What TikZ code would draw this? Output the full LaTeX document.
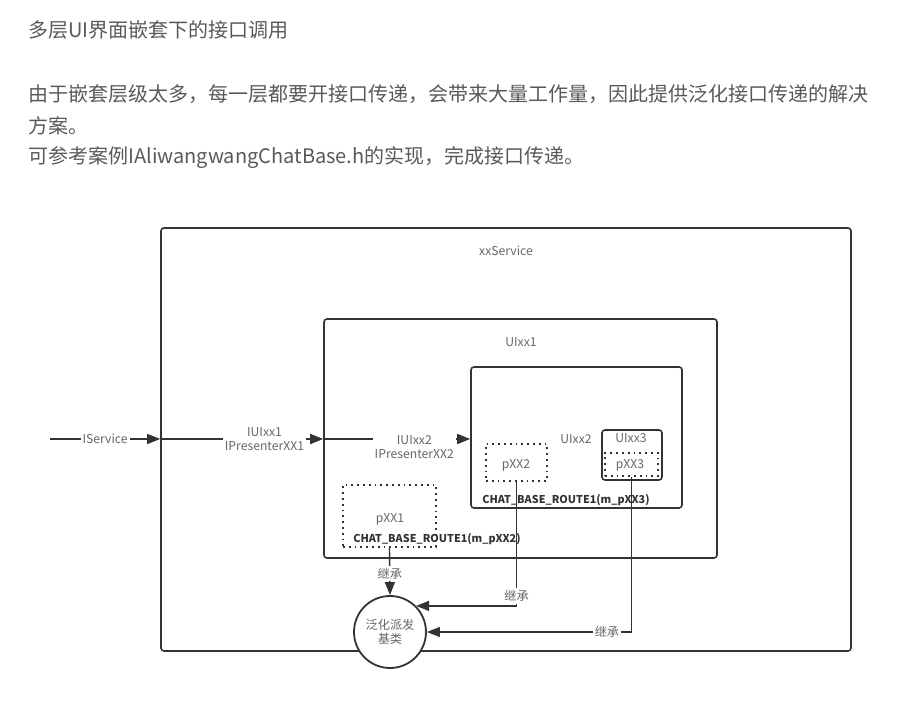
\documentclass[tikz,border=0pt]{standalone}
\usepackage{fontspec}
\setmainfont{Noto Sans CJK SC}
\usetikzlibrary{arrows.meta,fit}
\definecolor{txtgray}{HTML}{595959}
\definecolor{lblgray}{HTML}{666666}
\definecolor{linegray}{HTML}{333333}
\tikzset{
  txt/.style={text=txtgray, font=\fontsize{10}{12}\selectfont, inner sep=0pt},
  box/.style={draw=linegray, line width=0.8pt, rounded corners=1.5pt, inner sep=0pt},
  dotbox/.style={draw=linegray, line width=0.9pt, dotted, inner sep=0pt},
  lbl/.style={text=lblgray, font=\fontsize{6.1}{7.3}\selectfont, align=center, inner sep=1pt},
  route/.style={text=linegray, font=\fontsize{5.4}{6.5}\selectfont\bfseries, inner sep=0pt},
  arr/.style={draw=linegray, line width=0.7pt, -{Triangle[length=6.5pt,width=5pt]}},
}
\begin{document}
\begin{tikzpicture}[x=0.5pt,y=-0.5pt]
  \useasboundingbox (0,0) rectangle (907,710);
  \node[txt, anchor=west] (title) at (28,30) {多层UI界面嵌套下的接口调用};
  \foreach \y/\t in {94/{由于嵌套层级太多，每一层都要开接口传递，会带来大量工作量，因此提供泛化接口传递的解决},
                     126/{方案。},
                     158/{可参考案例IAliwangwangChatBase.h的实现，完成接口传递。}} {
    \node[txt, anchor=west] (para\y) at (28,\y) {\t};
  }

  \node[box, fit={(161,228) (851,651)}] (svc) {};
  \node[box, fit={(324,319) (717,558)}] (ui1) {};
  \node[box, fit={(471,367) (682,508)}] (ui2) {};
  \node[box, fit={(602,430) (662,480)}] (ui3) {};
  \node[dotbox, fit={(605,453) (658,476)}] (p3) {};
  \node[dotbox, fit={(486,444) (547,481)}] (p2) {};
  \node[dotbox, fit={(343,485) (436,547)}] (p1) {};

  \node[lbl] (svcname) at (506,251) {xxService};
  \node[lbl] (ui1name) at (521,342) {UIxx1};
  \node[lbl] (ui2name) at (576,439) {UIxx2};
  \node[lbl] (ui3name) at (631,438) {UIxx3};
  \node[lbl] (p3name) at (630,465) {pXX3};
  \node[lbl] (p2name) at (516,465) {pXX2};
  \node[lbl] (p1name) at (390,519) {pXX1};
  \node[route] (route2) at (437,539) {CHAT\_BASE\_ROUTE1(m\_pXX2)};
  \node[route] (route3) at (566,500) {CHAT\_BASE\_ROUTE1(m\_pXX3)};

  \node[lbl, draw=linegray, circle, line width=0.9pt, minimum size=36pt, fill=white] (base) at (390,632) {泛化派发\\基类};

  \coordinate (src) at (50,439);
  \draw[arr] (src) -- node[lbl, fill=white] {IService} (src -| svc.west);
  \draw[arr] (src -| svc.west) -- node[lbl, fill=white, pos=0.64] {IUIxx1\\IPresenterXX1} (src -| ui1.west);
  \draw[arr] (src -| ui1.west) -- node[lbl, fill=white, pos=0.62, yshift=-4pt] {IUIxx2\\IPresenterXX2} (src -| ui2.west);
  \draw[arr] (p1.south) -- node[lbl, fill=white, pos=0.55] {继承} (base.north);
  \draw[arr] (p2.south) |- node[lbl, fill=white, pos=0.46] {继承} (base.north east);
  \draw[arr] (p3.south) |- node[lbl, fill=white, pos=0.56] {继承} (base.east);
\end{tikzpicture}
\end{document}
